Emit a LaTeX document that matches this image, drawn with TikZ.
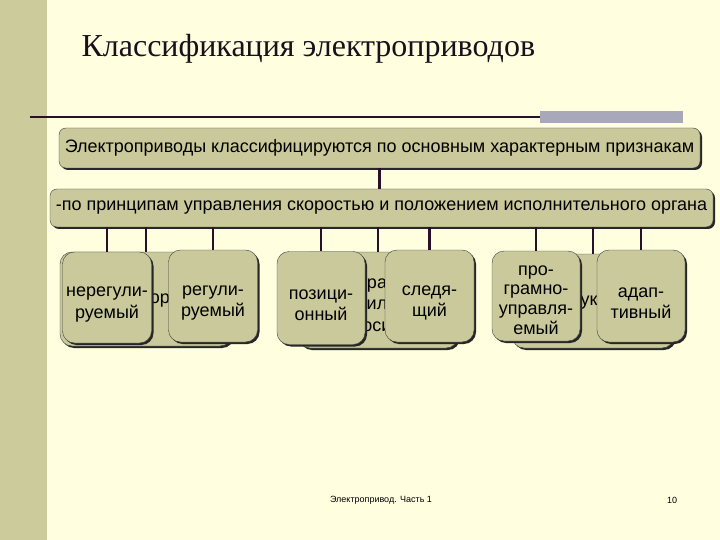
\documentclass[tikz,border=0pt]{standalone}
\usepackage{fontspec}
\setmainfont{Liberation Serif}
\setsansfont{Liberation Sans}
\usetikzlibrary{positioning,shadows}

\definecolor{slidebg}{HTML}{FFFFE0}
\definecolor{leftbar}{HTML}{CBCB9C}
\definecolor{boxfill}{HTML}{C9C99B}
\definecolor{linedark}{HTML}{2A0F2A}
\definecolor{greybar}{HTML}{A8A8BA}
\definecolor{titleink}{HTML}{1A0F1A}

\begin{document}
\begin{tikzpicture}[
  x=1pt, y=-1pt, font=\sffamily,
  wide/.style={rectangle, rounded corners=7pt, draw=black!75, fill=boxfill,
               inner sep=0pt, font=\sffamily\fontsize{18}{20}\selectfont,
               drop shadow={shadow xshift=2pt, shadow yshift=-2pt, fill=black!85, opacity=1}},
  frag/.style={inner sep=0pt, align=center, font=\sffamily\fontsize{18}{21.5}\selectfont},
  grp/.style={rectangle, rounded corners=12pt, draw=black!75, fill=boxfill,
              minimum width=89pt, minimum height=94pt, inner sep=0pt,
              drop shadow={shadow xshift=2pt, shadow yshift=-2pt, fill=black!85, opacity=1}},
  kind/.style={grp, minimum height=92pt, label={[frag, yshift=-7pt]center:#1}},
  kindtall/.style={grp, minimum height=92pt,
                   label={[frag, yshift=-4pt, font=\sffamily\fontsize{18}{19.8}\selectfont]center:#1}},
  conn/.style={draw=linedark, line width=2.5pt}
]

%% slide background
\fill[slidebg] (0,0) rectangle (720,540);
\fill[leftbar] (0,0) rectangle (47,540);
\draw[linedark, line width=2pt] (30,117) -- (540,117);
\fill[greybar] (540,111) rectangle (683,123);

\node[anchor=west, font=\rmfamily\fontsize{32}{36}\selectfont, text=titleink] (title) at (78,49) {Классификация электроприводов};

%% level 0
\node[wide, minimum width=641pt, minimum height=40pt] (top) at (379.5,148) {Электроприводы классифицируются по основным характерным признакам};

%% level 1
\node[wide, minimum width=663pt, minimum height=38pt] (crit) at (381.5,208) {-по принципам управления скоростью и положением исполнительного органа};

%% level 2, groups behind
\node[grp, minimum width=172pt] (gleft) at (146,299) {};
\node[grp, minimum width=160pt, minimum height=96pt] (gmid) at (378,300) {};
\node[grp, minimum width=162pt] (gright) at (593,301) {};
\node[frag] (fragl) at (160,301) {ор};
\node[frag] (fragm) at (377,305) {ра\\ил\\оси};
\node[frag] (fragr) at (589,303) {ук};

%% level 2, kinds
\node[kind={нерегули-\\руемый}, minimum height=91pt] (nereg) at (107,297.5) {};
\node[kind={регули-\\руемый}] (reg) at (213,296) {};
\node[kind={позици-\\онный}, minimum width=88pt, minimum height=93pt] (pos) at (321,298) {};
\node[kind={следя-\\щий}] (sled) at (429.5,296) {};
\node[kindtall={про-\\грамно-\\управля-\\емый}, minimum width=88pt, minimum height=90pt] (prog) at (536,296) {};
\node[kind={адап-\\тивный}, minimum width=88pt] (adapt) at (641,296) {};

%% edges
\draw[conn] (top.south) -- (top.south |- crit.north);
\foreach \n in {nereg,gleft,reg,pos,gmid,sled,prog,gright,adapt}
  \draw[conn] (crit.south -| \n.north) -- (\n.north);

%% footer
\node[font=\sffamily\fontsize{9}{10}\selectfont] (foot) at (381,500) {Электропривод. Часть 1};
\node[font=\sffamily\fontsize{9}{10}\selectfont] (pagenum) at (672,500) {10};
\end{tikzpicture}
\end{document}
